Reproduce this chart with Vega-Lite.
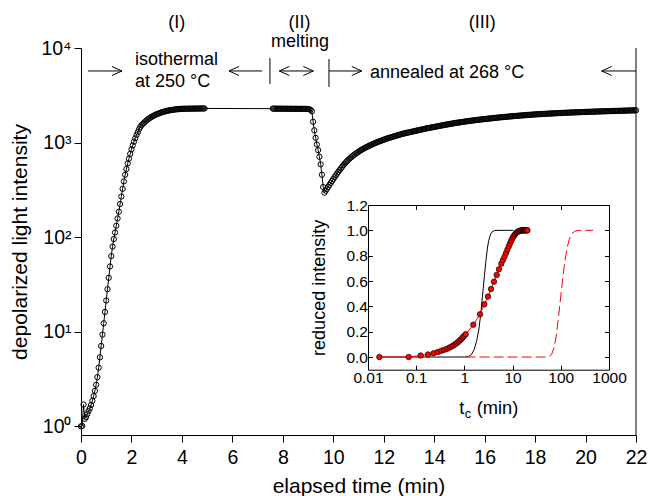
{
"$schema": "https://vega.github.io/schema/vega-lite/v6.json",
"width": 555, "height": 387,
"autosize": "none",
"padding": {"left": 81, "top": 48, "right": 12, "bottom": 61},
"config": {"font": "Liberation Sans", "view": {"stroke": null},
  "axis": {"grid": false, "domainColor": "black", "tickColor": "black", "labelColor": "black", "titleColor": "black", "titleFontWeight": "normal", "labelFlush": false, "labelOverlap": false, "domainWidth": 1, "tickWidth": 1}},
"datasets": {
"curve": [
{"t":0,"v":1.0},{"t":0.05,"v":1.01},{"t":0.1,"v":1.7},{"t":0.15,"v":1.2},{"t":0.2,"v":1.25},{"t":0.25,"v":1.35},{"t":0.3,"v":1.45},{"t":0.35,"v":1.55},{"t":0.4,"v":1.68},{"t":0.45,"v":1.86},{"t":0.5,"v":2.09},{"t":0.55,"v":2.37},{"t":0.6,"v":2.75},{"t":0.65,"v":3.31},{"t":0.7,"v":4.17},{"t":0.75,"v":5.37},{"t":0.8,"v":7.08},{"t":0.85,"v":9.33},{"t":0.9,"v":12.3},{"t":0.95,"v":16.2},{"t":1.0,"v":21.4},{"t":1.05,"v":28.2},{"t":1.1,"v":37.2},{"t":1.15,"v":49},{"t":1.2,"v":63.1},{"t":1.25,"v":79.4},{"t":1.3,"v":95.5},{"t":1.35,"v":112},{"t":1.4,"v":132},{"t":1.45,"v":158},{"t":1.5,"v":186},{"t":1.55,"v":224},{"t":1.6,"v":269},{"t":1.65,"v":324},{"t":1.7,"v":389},{"t":1.75,"v":457},{"t":1.8,"v":525},{"t":1.85,"v":603},{"t":1.9,"v":676},{"t":1.95,"v":759},{"t":2.0,"v":851},{"t":2.05,"v":933},{"t":2.1,"v":1023},{"t":2.15,"v":1109},{"t":2.2,"v":1202},{"t":2.25,"v":1288},{"t":2.3,"v":1380},{"t":2.35,"v":1462},{"t":2.4,"v":1531},{"t":2.45,"v":1578},{"t":2.5,"v":1622},{"t":2.55,"v":1671},{"t":2.6,"v":1718},{"t":2.65,"v":1758},{"t":2.7,"v":1799},{"t":2.75,"v":1837},{"t":2.8,"v":1871},{"t":2.85,"v":1905},{"t":2.9,"v":1936},{"t":2.95,"v":1968},{"t":3.0,"v":1995},{"t":3.05,"v":2018},{"t":3.1,"v":2042},{"t":3.15,"v":2065},{"t":3.2,"v":2089},{"t":3.25,"v":2109},{"t":3.3,"v":2128},{"t":3.35,"v":2148},{"t":3.4,"v":2163},{"t":3.45,"v":2178},{"t":3.5,"v":2188},{"t":3.55,"v":2203},{"t":3.6,"v":2213},{"t":3.65,"v":2223},{"t":3.7,"v":2234},{"t":3.75,"v":2244},{"t":3.8,"v":2249},{"t":3.85,"v":2254},{"t":3.9,"v":2265},{"t":3.95,"v":2270},{"t":4.0,"v":2275},{"t":4.05,"v":2277},{"t":4.1,"v":2278},{"t":4.15,"v":2280},{"t":4.2,"v":2281},{"t":4.25,"v":2283},{"t":4.3,"v":2284},{"t":4.35,"v":2285},{"t":4.4,"v":2286},{"t":4.45,"v":2287},{"t":4.5,"v":2288},{"t":4.55,"v":2289},{"t":4.6,"v":2290},{"t":4.65,"v":2291},{"t":4.7,"v":2292},{"t":4.75,"v":2293},{"t":4.8,"v":2294},{"t":4.85,"v":2295},{"t":4.9,"v":2296},
{"t":7.6,"v":2285},{"t":7.65,"v":2284},{"t":7.7,"v":2284},{"t":7.75,"v":2283},{"t":7.8,"v":2283},{"t":7.85,"v":2282},{"t":7.9,"v":2282},{"t":7.95,"v":2281},{"t":8.0,"v":2281},{"t":8.05,"v":2280},{"t":8.1,"v":2280},{"t":8.15,"v":2279},{"t":8.2,"v":2279},{"t":8.25,"v":2278},{"t":8.3,"v":2278},{"t":8.35,"v":2277},{"t":8.4,"v":2277},{"t":8.45,"v":2276},{"t":8.5,"v":2276},{"t":8.55,"v":2275},{"t":8.6,"v":2275},{"t":8.65,"v":2274},{"t":8.7,"v":2274},{"t":8.75,"v":2273},{"t":8.8,"v":2273},{"t":8.85,"v":2272},{"t":8.9,"v":2270},{"t":8.95,"v":2268},{"t":9.0,"v":2262},{"t":9.05,"v":2250},{"t":9.1,"v":2220},{"t":9.15,"v":2140},
{"t":9.2,"v":1660},{"t":9.25,"v":1349},{"t":9.3,"v":1122},{"t":9.35,"v":955},{"t":9.4,"v":832},{"t":9.45,"v":708},{"t":9.5,"v":589},{"t":9.55,"v":457},{"t":9.6,"v":339},{"t":9.65,"v":295},
{"t":9.7,"v":310},{"t":9.75,"v":325},{"t":9.8,"v":341},{"t":9.85,"v":358},{"t":9.9,"v":375},{"t":9.95,"v":393},{"t":10.0,"v":411},{"t":10.05,"v":431},{"t":10.1,"v":450},{"t":10.15,"v":470},{"t":10.2,"v":491},{"t":10.25,"v":512},{"t":10.3,"v":533},{"t":10.35,"v":555},{"t":10.4,"v":577},{"t":10.45,"v":598},{"t":10.5,"v":619},{"t":10.55,"v":640},{"t":10.6,"v":659},{"t":10.65,"v":678},{"t":10.7,"v":697},{"t":10.75,"v":714},{"t":10.8,"v":733},{"t":10.85,"v":750},{"t":10.9,"v":767},{"t":10.95,"v":783},{"t":11.0,"v":800},{"t":11.05,"v":817},{"t":11.1,"v":832},{"t":11.15,"v":847},{"t":11.2,"v":863},{"t":11.25,"v":877},{"t":11.3,"v":891},{"t":11.35,"v":906},{"t":11.4,"v":920},{"t":11.45,"v":933},{"t":11.5,"v":946},{"t":11.55,"v":959},{"t":11.6,"v":973},{"t":11.65,"v":986},{"t":11.7,"v":1000},{"t":11.75,"v":1012},{"t":11.8,"v":1023},{"t":11.85,"v":1035},{"t":11.9,"v":1047},{"t":11.95,"v":1059},{"t":12.0,"v":1072},{"t":12.05,"v":1084},{"t":12.1,"v":1096},{"t":12.15,"v":1109},{"t":12.2,"v":1119},{"t":12.25,"v":1130},{"t":12.3,"v":1140},{"t":12.35,"v":1151},{"t":12.4,"v":1161},{"t":12.45,"v":1172},{"t":12.5,"v":1183},{"t":12.55,"v":1194},{"t":12.6,"v":1205},{"t":12.65,"v":1216},{"t":12.7,"v":1227},{"t":12.75,"v":1239},{"t":12.8,"v":1247},{"t":12.85,"v":1256},{"t":12.9,"v":1265},{"t":12.95,"v":1274},{"t":13.0,"v":1282},{"t":13.05,"v":1291},{"t":13.1,"v":1300},{"t":13.15,"v":1309},{"t":13.2,"v":1318},{"t":13.25,"v":1327},{"t":13.3,"v":1337},{"t":13.35,"v":1346},{"t":13.4,"v":1355},{"t":13.45,"v":1365},{"t":13.5,"v":1374},{"t":13.55,"v":1384},{"t":13.6,"v":1393},{"t":13.65,"v":1403},{"t":13.7,"v":1413},{"t":13.75,"v":1422},{"t":13.8,"v":1429},{"t":13.85,"v":1439},{"t":13.9,"v":1445},{"t":13.95,"v":1455},{"t":14.0,"v":1462},{"t":14.05,"v":1472},{"t":14.1,"v":1480},{"t":14.15,"v":1490},{"t":14.2,"v":1500},{"t":14.25,"v":1508},{"t":14.3,"v":1516},{"t":14.35,"v":1525},{"t":14.4,"v":1534},{"t":14.45,"v":1543},{"t":14.5,"v":1552},{"t":14.55,"v":1560},{"t":14.6,"v":1569},{"t":14.65,"v":1578},{"t":14.7,"v":1587},{"t":14.75,"v":1596},{"t":14.8,"v":1605},{"t":14.85,"v":1612},{"t":14.9,"v":1620},{"t":14.95,"v":1627},{"t":15.0,"v":1635},{"t":15.05,"v":1643},{"t":15.1,"v":1650},{"t":15.15,"v":1657},{"t":15.2,"v":1665},{"t":15.25,"v":1672},{"t":15.3,"v":1680},{"t":15.35,"v":1687},{"t":15.4,"v":1695},{"t":15.45,"v":1702},{"t":15.5,"v":1710},{"t":15.55,"v":1716},{"t":15.6,"v":1723},{"t":15.65,"v":1729},{"t":15.7,"v":1736},{"t":15.75,"v":1742},{"t":15.8,"v":1748},{"t":15.85,"v":1755},{"t":15.9,"v":1761},{"t":15.95,"v":1767},{"t":16.0,"v":1773},{"t":16.05,"v":1780},{"t":16.1,"v":1786},{"t":16.15,"v":1792},{"t":16.2,"v":1798},{"t":16.25,"v":1804},{"t":16.3,"v":1810},{"t":16.35,"v":1816},{"t":16.4,"v":1822},{"t":16.45,"v":1828},{"t":16.5,"v":1834},{"t":16.55,"v":1840},{"t":16.6,"v":1846},{"t":16.65,"v":1851},{"t":16.7,"v":1857},{"t":16.75,"v":1863},{"t":16.8,"v":1868},{"t":16.85,"v":1873},{"t":16.9,"v":1878},{"t":16.95,"v":1883},{"t":17.0,"v":1889},{"t":17.05,"v":1894},{"t":17.1,"v":1899},{"t":17.15,"v":1904},{"t":17.2,"v":1909},{"t":17.25,"v":1914},{"t":17.3,"v":1919},{"t":17.35,"v":1924},{"t":17.4,"v":1929},{"t":17.45,"v":1934},{"t":17.5,"v":1939},{"t":17.55,"v":1944},{"t":17.6,"v":1948},{"t":17.65,"v":1953},{"t":17.7,"v":1958},{"t":17.75,"v":1963},{"t":17.8,"v":1967},{"t":17.85,"v":1972},{"t":17.9,"v":1976},{"t":17.95,"v":1981},{"t":18.0,"v":1985},{"t":18.05,"v":1990},{"t":18.1,"v":1993},{"t":18.15,"v":1997},{"t":18.2,"v":2000},{"t":18.25,"v":2004},{"t":18.3,"v":2007},{"t":18.35,"v":2011},{"t":18.4,"v":2014},{"t":18.45,"v":2018},{"t":18.5,"v":2021},{"t":18.55,"v":2025},{"t":18.6,"v":2028},{"t":18.65,"v":2031},{"t":18.7,"v":2035},{"t":18.75,"v":2038},{"t":18.8,"v":2041},{"t":18.85,"v":2044},{"t":18.9,"v":2048},{"t":18.95,"v":2051},{"t":19.0,"v":2054},{"t":19.05,"v":2057},{"t":19.1,"v":2060},{"t":19.15,"v":2063},{"t":19.2,"v":2066},{"t":19.25,"v":2069},{"t":19.3,"v":2072},{"t":19.35,"v":2075},{"t":19.4,"v":2078},{"t":19.45,"v":2080},{"t":19.5,"v":2083},{"t":19.55,"v":2086},{"t":19.6,"v":2088},{"t":19.65,"v":2091},{"t":19.7,"v":2094},{"t":19.75,"v":2096},{"t":19.8,"v":2099},{"t":19.85,"v":2101},{"t":19.9,"v":2104},{"t":19.95,"v":2106},{"t":20.0,"v":2109},{"t":20.05,"v":2111},{"t":20.1,"v":2114},{"t":20.15,"v":2116},{"t":20.2,"v":2118},{"t":20.25,"v":2121},{"t":20.3,"v":2123},{"t":20.35,"v":2125},{"t":20.4,"v":2128},{"t":20.45,"v":2130},{"t":20.5,"v":2132},{"t":20.55,"v":2134},{"t":20.6,"v":2137},{"t":20.65,"v":2139},{"t":20.7,"v":2141},{"t":20.75,"v":2143},{"t":20.8,"v":2145},{"t":20.85,"v":2147},{"t":20.9,"v":2150},{"t":20.95,"v":2152},{"t":21.0,"v":2154},{"t":21.05,"v":2156},{"t":21.1,"v":2158},{"t":21.15,"v":2160},{"t":21.2,"v":2162},{"t":21.25,"v":2164},{"t":21.3,"v":2166},{"t":21.35,"v":2168},{"t":21.4,"v":2170},{"t":21.45,"v":2172},{"t":21.5,"v":2174},{"t":21.55,"v":2176},{"t":21.6,"v":2178},{"t":21.65,"v":2180},{"t":21.7,"v":2182},{"t":21.75,"v":2184},{"t":21.8,"v":2186},{"t":21.85,"v":2188},{"t":21.9,"v":2190},{"t":21.95,"v":2192},{"t":22.0,"v":2194}
],
"segs": [
{"t":0.277,"t2":1.625,"v":5715,"v2":5715},
{"t":5.866,"t2":7.174,"v":5715,"v2":5715},
{"t":7.86,"t2":9.21,"v":5715,"v2":5715},
{"t":9.83,"t2":11.13,"v":5715,"v2":5715},
{"t":20.64,"t2":22,"v":5715,"v2":5715},
{"t":7.49,"t2":7.49,"v":4170,"v2":7840},
{"t":9.83,"t2":9.83,"v":3875,"v2":7650},
{"t":22,"t2":22,"v":0.81,"v2":10000}
],
"headsR": [{"t":1.625,"v":5715},{"t":9.21,"v":5715},{"t":11.13,"v":5715}],
"headsL": [{"t":5.866,"v":5715},{"t":7.86,"v":5715},{"t":20.64,"v":5715}],
"notesC": [{"t":3.8,"v":16440,"label":"(I)"},{"t":8.66,"v":16440,"label":"(II)"},{"t":15.91,"v":16440,"label":"(III)"},{"t":8.68,"v":10230,"label":"melting"}],
"notesL": [{"t":2.14,"v":6620,"label":"isothermal"},{"t":2.14,"v":3875,"label":"at 250 °C"},{"t":11.455,"v":4820,"label":"annealed at 268 °C"}],
"pts": [
{"tc":0.0172,"r":0},{"tc":0.0698,"r":0},{"tc":0.124,"r":0.012},{"tc":0.176,"r":0.02},{"tc":0.229,"r":0.03},{"tc":0.282,"r":0.04},{"tc":0.335,"r":0.05},{"tc":0.388,"r":0.058},{"tc":0.441,"r":0.066},{"tc":0.494,"r":0.075},{"tc":0.547,"r":0.084},{"tc":0.6,"r":0.093},{"tc":0.653,"r":0.103},{"tc":0.706,"r":0.112},{"tc":0.759,"r":0.122},{"tc":0.812,"r":0.132},{"tc":0.865,"r":0.142},{"tc":0.918,"r":0.153},{"tc":0.971,"r":0.164},{"tc":1.06,"r":0.18},{"tc":1.53,"r":0.255},{"tc":2.11,"r":0.337},{"tc":2.59,"r":0.416},{"tc":3.09,"r":0.477},{"tc":3.57,"r":0.537},{"tc":4.11,"r":0.595},{"tc":4.68,"r":0.648},{"tc":5.22,"r":0.693},{"tc":5.83,"r":0.737},{"tc":6.3,"r":0.765},{"tc":6.8,"r":0.792},{"tc":7.3,"r":0.82},{"tc":7.8,"r":0.847},{"tc":8.3,"r":0.872},{"tc":8.8,"r":0.895},{"tc":9.3,"r":0.915},{"tc":9.8,"r":0.933},{"tc":10.3,"r":0.948},{"tc":10.8,"r":0.96},{"tc":11.3,"r":0.97},{"tc":11.8,"r":0.978},{"tc":12.3,"r":0.984},{"tc":12.8,"r":0.989},{"tc":13.3,"r":0.993},{"tc":13.8,"r":0.995},{"tc":14.3,"r":0.997},{"tc":14.8,"r":0.998},{"tc":15.3,"r":0.999},{"tc":15.8,"r":1.0},{"tc":16.3,"r":1.0},{"tc":16.8,"r":1.0},{"tc":17.3,"r":1.0},{"tc":17.8,"r":1.0},{"tc":18.3,"r":1.0},{"tc":18.8,"r":1.0},{"tc":19.3,"r":1.0},{"tc":19.8,"r":1.0},{"tc":20.3,"r":1.0}
],
"fitBlack": [
{"tc":0.0172,"r":0},{"tc":0.5,"r":0},{"tc":1.0,"r":0},{"tc":1.2,"r":0.003},{"tc":1.4,"r":0.02},{"tc":1.6,"r":0.06},{"tc":1.8,"r":0.13},{"tc":2.0,"r":0.22},{"tc":2.2,"r":0.35},{"tc":2.4,"r":0.5},{"tc":2.6,"r":0.64},{"tc":2.8,"r":0.76},{"tc":3.0,"r":0.86},{"tc":3.2,"r":0.92},{"tc":3.5,"r":0.97},{"tc":3.8,"r":0.99},{"tc":4.2,"r":0.998},{"tc":5,"r":1.0},{"tc":7,"r":1.0},{"tc":10.3,"r":1.0}
],
"fitRed": [
{"tc":1.06,"r":0},{"tc":20,"r":0},{"tc":50,"r":0},{"tc":58,"r":0.005},{"tc":65,"r":0.025},{"tc":72,"r":0.07},{"tc":80,"r":0.16},{"tc":88,"r":0.29},{"tc":96,"r":0.42},{"tc":104,"r":0.54},{"tc":112,"r":0.65},{"tc":122,"r":0.76},{"tc":135,"r":0.86},{"tc":150,"r":0.93},{"tc":170,"r":0.975},{"tc":200,"r":0.995},{"tc":240,"r":1.0},{"tc":470,"r":1.0}
],
"tcTitle": [{"tc":0.783,"r":-0.446}]
},
"layer": [
{
 "encoding": {
  "x": {"field": "t", "type": "quantitative", "scale": {"domain": [0, 22], "nice": false, "zero": false},
        "axis": {"orient": "bottom", "values": [0,2,4,6,8,10,12,14,16,18,20,22], "tickSize": 7, "labelPadding": 6, "labelFontSize": 19.5, "title": "elapsed time (min)", "titleFontSize": 21, "titlePadding": 9}},
  "y": {"field": "v", "type": "quantitative", "scale": {"type": "log", "domain": [0.81, 10000], "nice": false},
        "axis": {"orient": "left", "values": [1,10,100,1000,10000], "labelExpr": "datum.value < 5 ? '10⁰' : datum.value < 50 ? '10¹' : datum.value < 500 ? '10²' : datum.value < 5000 ? '10³' : '10⁴'", "tickSize": 7, "labelPadding": 3, "labelFontSize": 19.5, "title": "depolarized light intensity", "titleFontSize": 21, "titlePadding": 10}}
 },
 "layer": [
  {"data": {"name": "curve"}, "mark": {"type": "line", "color": "black", "strokeWidth": 1}, "encoding": {}},
  {"data": {"name": "curve"}, "mark": {"type": "point", "shape": "circle", "filled": false, "color": "black", "size": 28, "strokeWidth": 1, "opacity": 1}, "encoding": {}},
  {"data": {"name": "segs"}, "mark": {"type": "rule", "color": "black", "strokeWidth": 1}, "encoding": {"x2": {"field": "t2"}, "y2": {"field": "v2"}}},
  {"data": {"name": "headsR"}, "mark": {"type": "point", "shape": "M-1,-0.45L0,0L-1,0.45", "filled": false, "color": "black", "size": 400, "strokeWidth": 1, "opacity": 1}, "encoding": {}},
  {"data": {"name": "headsL"}, "mark": {"type": "point", "shape": "M1,-0.45L0,0L1,0.45", "filled": false, "color": "black", "size": 400, "strokeWidth": 1, "opacity": 1}, "encoding": {}},
  {"data": {"name": "notesC"}, "mark": {"type": "text", "fontSize": 18, "align": "center", "baseline": "alphabetic", "color": "black"}, "encoding": {"text": {"field": "label"}}},
  {"data": {"name": "notesL"}, "mark": {"type": "text", "fontSize": 18, "align": "left", "baseline": "alphabetic", "color": "black"}, "encoding": {"text": {"field": "label"}}}
 ]
},
{
 "encoding": {
  "x": {"field": "tc", "type": "quantitative", "scale": {"type": "log", "domain": [0.01, 1000], "range": [287, 528], "nice": false},
        "axis": {"orient": "bottom", "offset": -65.3, "values": [0.01,0.1,1,10,100,1000], "format": "~g", "tickSize": -4.5, "labelPadding": 5, "labelFontSize": 15.5, "title": null}},
  "y": {"field": "r", "type": "quantitative", "scale": {"domain": [-0.1, 1.2], "range": [321.7, 157], "nice": false, "zero": false},
        "axis": {"orient": "left", "offset": -287, "values": [0,0.2,0.4,0.6,0.8,1.0,1.2], "format": ".1f", "tickSize": -4.5, "labelPadding": 5, "labelFontSize": 15.5, "title": "reduced intensity", "titleFontSize": 18, "titlePadding": 17}}
 },
 "layer": [
  {"data": {"name": "fitBlack"}, "mark": {"type": "line", "color": "black", "strokeWidth": 1}, "encoding": {}},
  {"data": {"name": "pts"}, "mark": {"type": "line", "color": "#ff0000", "strokeWidth": 1}, "encoding": {}},
  {"data": {"name": "pts"}, "mark": {"type": "point", "shape": "circle", "filled": true, "fill": "#ff0000", "stroke": "black", "strokeWidth": 0.7, "size": 30, "opacity": 1}, "encoding": {}},
  {"data": {"name": "tcTitle"}, "mark": {"type": "text", "text": "t", "fontSize": 18.3, "align": "left", "baseline": "alphabetic", "color": "black"}, "encoding": {}},
  {"data": {"name": "tcTitle"}, "mark": {"type": "text", "text": "c", "fontSize": 12.8, "align": "left", "baseline": "alphabetic", "dx": 5.4, "dy": 4, "color": "black"}, "encoding": {}},
  {"data": {"name": "tcTitle"}, "mark": {"type": "text", "text": "(min)", "fontSize": 18.3, "align": "left", "baseline": "alphabetic", "dx": 17.4, "color": "black"}, "encoding": {}}
 ]
},
{
 "data": {"name": "fitRed"},
 "mark": {"type": "line", "color": "#ff0000", "strokeWidth": 1, "strokeDash": [10, 4]},
 "encoding": {
  "x": {"field": "tc", "type": "quantitative", "scale": {"type": "log", "domain": [0.01, 1000], "range": [287, 528], "nice": false},
        "axis": {"orient": "top", "offset": -157, "values": [0.01,0.1,1,10,100,1000], "tickSize": -4.5, "labels": false, "title": null}},
  "y": {"field": "r", "type": "quantitative", "scale": {"domain": [-0.1, 1.2], "range": [321.7, 157], "nice": false, "zero": false},
        "axis": {"orient": "right", "offset": -27, "values": [0,0.2,0.4,0.6,0.8,1.0,1.2], "tickSize": -4.5, "labels": false, "title": null}}
 }
}
],
"resolve": {"scale": {"x": "independent", "y": "independent"}}
}
